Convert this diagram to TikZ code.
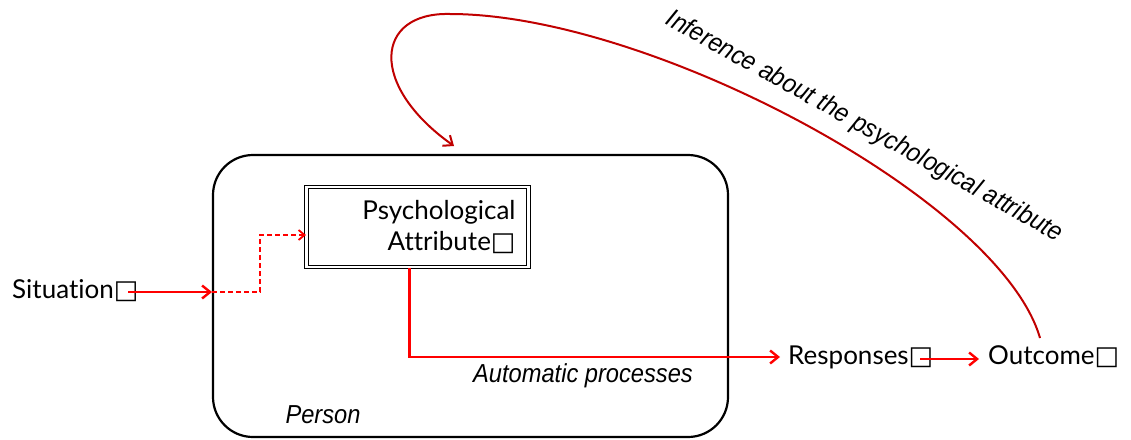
\documentclass[tikz,border=0pt]{standalone}
\usepackage{fontspec}
\usepackage{graphicx}
\setmainfont{Lato}[Ligatures=NoCommon]
\newfontfamily\symfont{DejaVu Sans}
\newfontfamily\arialfont{Liberation Sans}
\usetikzlibrary{arrows.meta}
\definecolor{arrred}{RGB}{255,0,0}
\definecolor{curvered}{RGB}{192,0,0}
\newcommand{\bx}{{\symfont\char"25A1}}
\tikzset{
  lbl/.style={inner sep=0pt, font=\fontsize{26}{31}\selectfont},
  ital/.style={inner sep=0pt, font=\arialfont\itshape\fontsize{26}{31}\selectfont},
  redarrow/.style={draw=arrred, line width=2.6pt, -{Straight Barb[length=8pt,width=13pt,line width=2.4pt]}},
  curvearrow/.style={draw=curvered, line width=2pt, -{Straight Barb[length=8pt,width=13pt,line width=2pt]}},
}
\begin{document}
\begin{tikzpicture}[x=1pt,y=-1pt]
\useasboundingbox (0,0) rectangle (1131,439);
% person box
\node[draw, line width=2.2pt, rounded corners=40pt, minimum width=515pt, minimum height=282pt, inner sep=0pt] (person) at (470.5,296) {};
% psych box
\node[draw, double, double distance=2.2pt, line width=1.1pt, minimum width=222pt, minimum height=80pt, inner sep=0pt, text width=196pt, align=right, font=\fontsize{26}{31}\selectfont] (psych) at (417.5,227) {Psychological\\Attribute\bx};
% texts
\node[lbl, anchor=west] (situation) at (12,291) {Situation\bx};
\node[lbl, anchor=west] (responses) at (788,357) {Responses\bx};
\node[lbl, anchor=west] (outcome) at (988,357) {Outcome\bx};
\node[ital] (auto) at (583,376) {\scalebox{0.91}[1]{Automatic processes}};
\node[ital] (personlbl) at (323,415) {\scalebox{0.91}[1]{Person}};
\node[ital, rotate=-29] (infer) at (864,127) {\scalebox{0.92}[1]{Inference about the psychological attribute}};
% coordinates
\coordinate (sitstart) at (128,292);
\coordinate (entry) at (212,292);
\coordinate (respstart) at (920,359);
\coordinate (outstart) at (1040,338);
\coordinate (top) at (450,14);
\coordinate (tip) at (454,146);
% connectors
\draw[redarrow] (sitstart) -- (entry);
\draw[draw=arrred, line width=2pt, dashed, dash pattern=on 5pt off 3pt, -{Straight Barb[length=6pt,width=10pt,line width=1.8pt]}] (entry) -- ++(48,0) |- ([yshift=-8pt]psych.west);
\draw[redarrow] ([xshift=-8pt]psych.south) |- ([xshift=-8pt]responses.west);
\draw[redarrow] (respstart) -- ([xshift=-9pt]outcome.west |- respstart);
\draw[curvearrow] (outstart) .. controls (1000,200) and (650,14) .. (top) .. controls (375,12) and (368,85) .. (tip);
\end{tikzpicture}
\end{document}
